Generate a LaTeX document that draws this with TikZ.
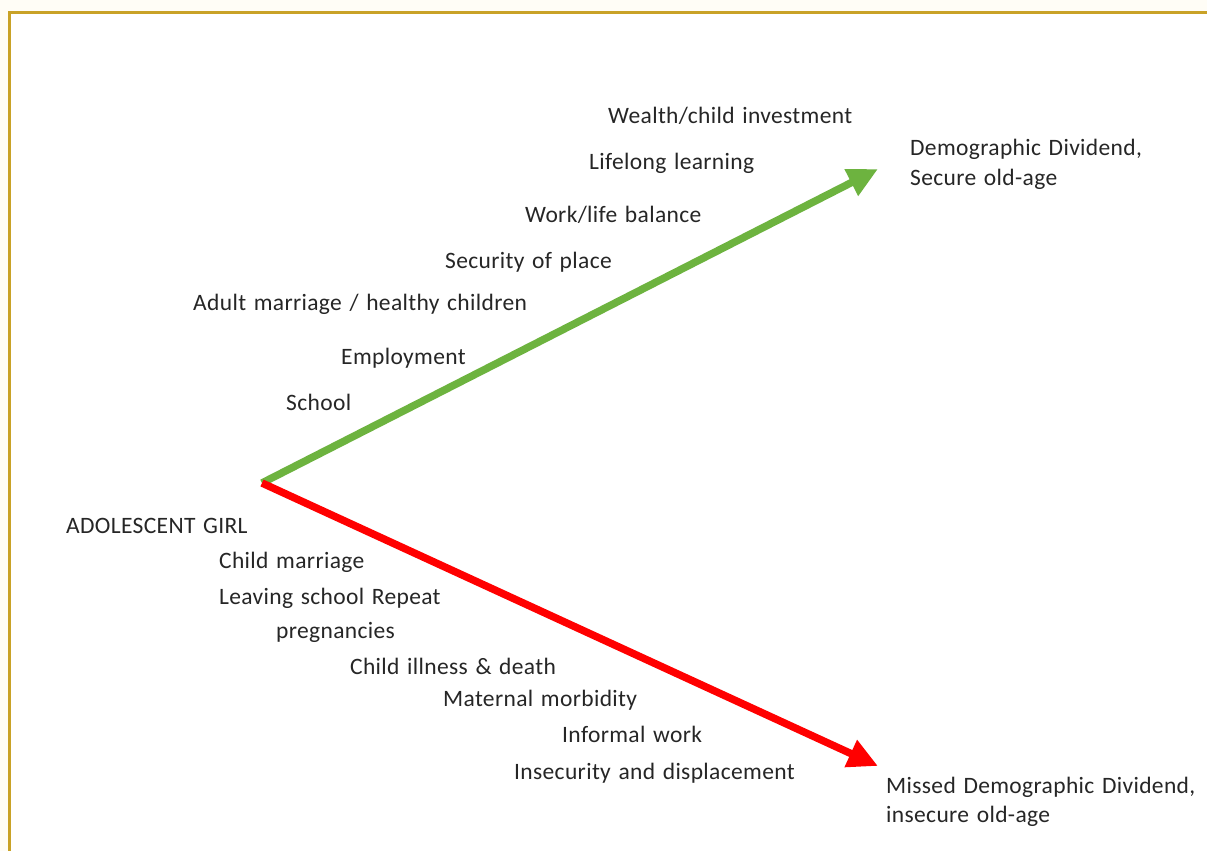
\documentclass[tikz,border=0pt]{standalone}
\usepackage{fontspec}
\setmainfont{Carlito}[LetterSpace=1.5, WordSpace=1.35]
\usetikzlibrary{arrows.meta}
\definecolor{gold}{HTML}{C9A227}
\definecolor{cream}{HTML}{FFFDF6}
\definecolor{agreen}{HTML}{6DB33F}
\definecolor{ared}{HTML}{FF0000}
\definecolor{txt}{HTML}{262626}
\tikzset{
  lbl/.style={anchor=base west, inner sep=0pt, text=txt, font=\fontsize{23.5}{29}\selectfont},
  arr/.style={line width=7.5pt, -{Triangle[length=30pt, width=28pt]}},
}
\begin{document}
\begin{tikzpicture}[x=1pt,y=-1pt]
\useasboundingbox (0,0) rectangle (1207,851);
\fill[cream] (0,0) rectangle (1207,851);
\fill[white] (10,14) rectangle (1207,851);
\draw[gold, line width=3pt] (9,851) -- (9,13) -- (1207,13);

\coordinate (start) at (262,483);
\coordinate (gend) at (878,169);
\coordinate (rend) at (878,766);
\draw[arr, agreen] (start) -- (gend);
\draw[arr, ared] (start) -- (rend);

\node[lbl] (w1) at (608,123) {Wealth/child investment};
\node[lbl] (w2) at (589,169) {Lifelong learning};
\node[lbl] (w3) at (525,222) {Work/life balance};
\node[lbl] (w4) at (445,268) {Security of place};
\node[lbl] (w5) at (193,310) {Adult marriage / healthy children};
\node[lbl] (w6) at (341,364) {Employment};
\node[lbl] (w7) at (286,410) {School};
\node[lbl] (dd) at (910,155) {Demographic Dividend,};
\node[lbl] (dd2) at (910,185) {Secure old-age};

\node[lbl] (girl) at (66,533) {ADOLESCENT GIRL};
\node[lbl] (l1) at (219,568) {Child marriage};
\node[lbl] (l2) at (219,604) {Leaving school Repeat};
\node[lbl] (l3) at (276,638) {pregnancies};
\node[lbl] (l4) at (350,674) {Child illness \& death};
\node[lbl] (l5) at (443,706) {Maternal morbidity};
\node[lbl] (l6) at (562,742) {Informal work};
\node[lbl] (l7) at (514,779) {Insecurity and displacement};
\node[lbl] (md) at (886,793) {Missed Demographic Dividend,};
\node[lbl] (md2) at (886,822) {insecure old-age};
\end{tikzpicture}
\end{document}
